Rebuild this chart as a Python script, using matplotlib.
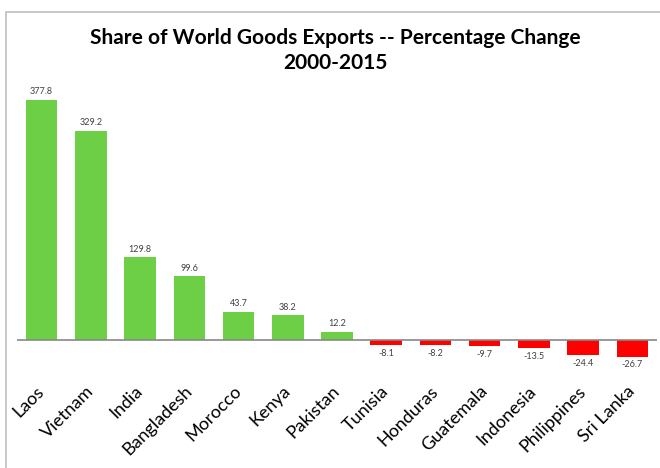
import matplotlib.pyplot as plt
from matplotlib.patches import Rectangle

countries = ['Laos', 'Vietnam', 'India', 'Bangladesh', 'Morocco', 'Kenya', 'Pakistan',
             'Tunisia', 'Honduras', 'Guatemala', 'Indonesia', 'Philippines', 'Sri Lanka']
change = [377.8, 329.2, 129.8, 99.6, 43.7, 38.2, 12.2,
          -8.1, -8.2, -9.7, -13.5, -24.4, -26.7]

plt.rcParams['font.family'] = ['Lato', 'DejaVu Sans']

fig = plt.figure(figsize=(6.6, 4.68), dpi=100)
# grey frame of the chart area (runs off right and bottom)
fig.patches.append(Rectangle((6/660, -0.05), 1.0, 1 - 12/468 + 0.05, transform=fig.transFigure,
                             fill=False, edgecolor='#bfbfbf', linewidth=1.2))

ax = fig.add_axes([17/660, 1 - 365/468, 640/660, (365 - 86)/468])
cols = ['#6dcf45' if v >= 0 else '#ff0000' for v in change]
x = range(len(countries))
ax.bar(x, change, width=0.64, color=cols)
ax.axhline(0, color='#888888', linewidth=1.2)
ax.set_xlim(-0.5, len(countries) - 0.5)
ax.set_ylim(-40, 400)

for i, v in enumerate(change):
    if v >= 0:
        ax.text(i, v + 6, '%.1f' % v, ha='center', va='bottom', fontsize=6.5, color='#404040')
    else:
        ax.text(i, v - 6, '%.1f' % v, ha='center', va='top', fontsize=6.5, color='#404040')

ax.set_xticks(list(x))
ax.set_xticklabels(countries, rotation=45, ha='right', va='center', rotation_mode='anchor',
                   fontsize=13)
ax.tick_params(axis='x', length=0, pad=17)
ax.set_yticks([])
for s in ax.spines.values():
    s.set_visible(False)

fig.text(335/660, 1 - 38/468, 'Share of World Goods Exports -- Percentage Change',
         ha='center', va='center', fontsize=15, fontweight='bold')
fig.text(335/660, 1 - 63/468, '2000-2015', ha='center', va='center', fontsize=15,
         fontweight='bold')

plt.savefig('out.png', dpi=100)
